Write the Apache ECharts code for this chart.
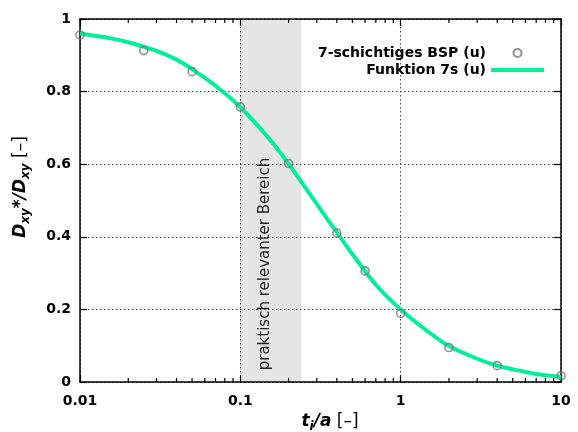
<!DOCTYPE html>
<html>
<head>
<meta charset="utf-8">
<script src="https://cdn.jsdelivr.net/npm/echarts@6/dist/echarts.min.js"></script>
<style>
  html, body { margin: 0; padding: 0; background: #fff; }
  #chart { width: 578px; height: 432px; }
</style>
</head>
<body>
<div id="chart"></div>
<script>
// Measured points of the 7-layer board
const pointX = [0.01, 0.025, 0.05, 0.1, 0.2, 0.4, 0.6, 1, 2, 4, 10];
const pointY = [0.956, 0.913, 0.855, 0.758, 0.602, 0.41, 0.306, 0.189, 0.095, 0.045, 0.017];

// Fitted function 7s (u)
const curveX = [0.01, 0.015, 0.02, 0.03, 0.04, 0.05, 0.07, 0.1, 0.15, 0.2, 0.3, 0.4, 0.5, 0.7, 1, 1.5, 2, 3, 4, 5, 7, 10];
const curveY = [0.960, 0.948, 0.936, 0.912, 0.888, 0.862, 0.816, 0.757, 0.672, 0.601, 0.490, 0.412, 0.352, 0.268, 0.200, 0.137, 0.099, 0.064, 0.045, 0.035, 0.022, 0.014];

// Practically relevant range of t_i/a
const rangeStart = 0.1;
const rangeEnd = 0.24;

// Minor tick positions of the log axis
const minorTicks = [0.02, 0.03, 0.04, 0.05, 0.06, 0.07, 0.08, 0.09,
                    0.2, 0.3, 0.4, 0.5, 0.6, 0.7, 0.8, 0.9,
                    2, 3, 4, 5, 6, 7, 8, 9];

const pointName = '7-schichtiges BSP (u)';
const curveName = 'Funktion 7s (u)';
const rangeLabel = 'praktisch relevanter Bereich';

const FONT = 'DejaVu Sans';
const CURVE_COLOR = '#00f09a';
const chart = echarts.init(document.getElementById('chart'), null, { renderer: 'canvas' });

const labelRich = {
  it: { fontFamily: FONT, fontWeight: 'bold', fontStyle: 'italic', fontSize: 17, color: '#000', lineHeight: 22, verticalAlign: 'middle' },
  b:  { fontFamily: FONT, fontWeight: 'bold', fontSize: 17, color: '#000', lineHeight: 22, verticalAlign: 'middle' },
  sub:{ fontFamily: FONT, fontWeight: 'bold', fontStyle: 'italic', fontSize: 12, color: '#000', lineHeight: 9, verticalAlign: 'bottom' },
  n:  { fontFamily: FONT, fontSize: 17, color: '#000', lineHeight: 22, verticalAlign: 'middle' }
};

const splitStyle = { color: '#444', width: 1, type: [1.5, 2.5] };
const borderStyle = { color: '#000', width: 1.5 };
const tickStyle = { color: '#000', width: 1.2 };

chart.setOption({
  animation: false,
  backgroundColor: '#fff',
  grid: { left: 80, right: 17, top: 19, bottom: 50, containLabel: false },
  legend: {
    orient: 'vertical',
    right: 29,
    top: 41,
    align: 'right',
    itemWidth: 53,
    itemHeight: 8,
    itemGap: 3,
    selectedMode: false,
    textStyle: { fontFamily: FONT, fontWeight: 'bold', fontSize: 14, color: '#000', lineHeight: 14 },
    data: [
      { name: pointName },
      { name: curveName, icon: 'path://M0 0H53V4H0Z' }
    ]
  },
  xAxis: [{
    type: 'log',
    logBase: 10,
    min: 0.01,
    max: 10,
    axisLine: { show: true, onZero: false, lineStyle: borderStyle },
    axisTick: { show: true, inside: true, length: 7, lineStyle: tickStyle },
    axisLabel: { fontFamily: FONT, fontWeight: 'bold', fontSize: 14, color: '#000', margin: 12,
      formatter: v => String(+v.toPrecision(3)) },
    splitLine: { show: true, lineStyle: splitStyle }
  }, {
    type: 'log',
    logBase: 10,
    min: 0.01,
    max: 10,
    position: 'top',
    axisLine: { show: true, onZero: false, lineStyle: borderStyle },
    axisTick: { show: true, inside: true, length: 7, lineStyle: tickStyle },
    axisLabel: { show: false },
    splitLine: { show: false }
  }],
  yAxis: [{
    type: 'value',
    min: 0,
    max: 1,
    interval: 0.2,
    axisLine: { show: true, onZero: false, lineStyle: borderStyle },
    axisTick: { show: true, inside: true, length: 7, lineStyle: tickStyle },
    axisLabel: { fontFamily: FONT, fontWeight: 'bold', fontSize: 14, color: '#000', margin: 9,
      formatter: v => String(+v.toFixed(1)) },
    splitLine: { show: true, lineStyle: splitStyle }
  }, {
    type: 'value',
    min: 0,
    max: 1,
    interval: 0.2,
    position: 'right',
    axisLine: { show: true, onZero: false, lineStyle: borderStyle },
    axisTick: { show: true, inside: true, length: 7, lineStyle: tickStyle },
    axisLabel: { show: false },
    splitLine: { show: false }
  }],
  series: [
    {
      // shaded band for the practically relevant range
      name: 'Bereich',
      type: 'line',
      data: [],
      z: -1,
      silent: true,
      markArea: {
        silent: true,
        z: -1,
        itemStyle: { color: '#e5e5e5' },
        data: [[{ xAxis: rangeStart }, { xAxis: rangeEnd }]]
      }
    },
    {
      // minor ticks of the log x axis (bottom and top)
      name: 'minorTicks',
      type: 'custom',
      silent: true,
      z: 5,
      data: minorTicks.map(v => [v]),
      encode: { x: 0 },
      renderItem: (params, api) => {
        const v = api.value(0);
        const b = api.coord([v, 0]);
        const t = api.coord([v, 1]);
        const style = { stroke: '#000', lineWidth: 1.2 };
        return {
          type: 'group',
          children: [
            { type: 'line', shape: { x1: b[0], y1: b[1], x2: b[0], y2: b[1] - 4 }, style },
            { type: 'line', shape: { x1: t[0], y1: t[1], x2: t[0], y2: t[1] + 4 }, style }
          ]
        };
      }
    },
    {
      name: curveName,
      type: 'line',
      smooth: 0.25,
      symbol: 'none',
      z: 3,
      lineStyle: { color: CURVE_COLOR, width: 4 },
      itemStyle: { color: CURVE_COLOR },
      data: curveX.map((x, i) => [x, curveY[i]])
    },
    {
      name: pointName,
      type: 'scatter',
      symbol: 'circle',
      symbolSize: 8,
      z: 4,
      itemStyle: { color: 'rgba(255,255,255,0)', borderColor: '#777', borderWidth: 1.6 },
      data: pointX.map((x, i) => [x, pointY[i]])
    }
  ],
  graphic: [
    {
      type: 'text',
      x: 21,
      y: 187,
      rotation: Math.PI / 2,
      style: {
        text: '{it|D}{sub|xy}{b|*}{it|/}{it|D}{sub|xy}{n| [–]}',
        rich: labelRich,
        align: 'center',
        verticalAlign: 'middle'
      }
    },
    {
      type: 'text',
      x: 330,
      y: 422,
      style: {
        text: '{it|t}{sub|i}{it|/}{it|a}{n| [–]}',
        rich: labelRich,
        align: 'center',
        verticalAlign: 'middle'
      }
    },
    {
      type: 'text',
      x: 265,
      y: 264,
      rotation: Math.PI / 2,
      z: 1,
      style: {
        text: rangeLabel,
        fontFamily: FONT,
        fontSize: 15,
        fill: '#222',
        align: 'center',
        verticalAlign: 'middle'
      }
    }
  ]
});
</script>
</body>
</html>
